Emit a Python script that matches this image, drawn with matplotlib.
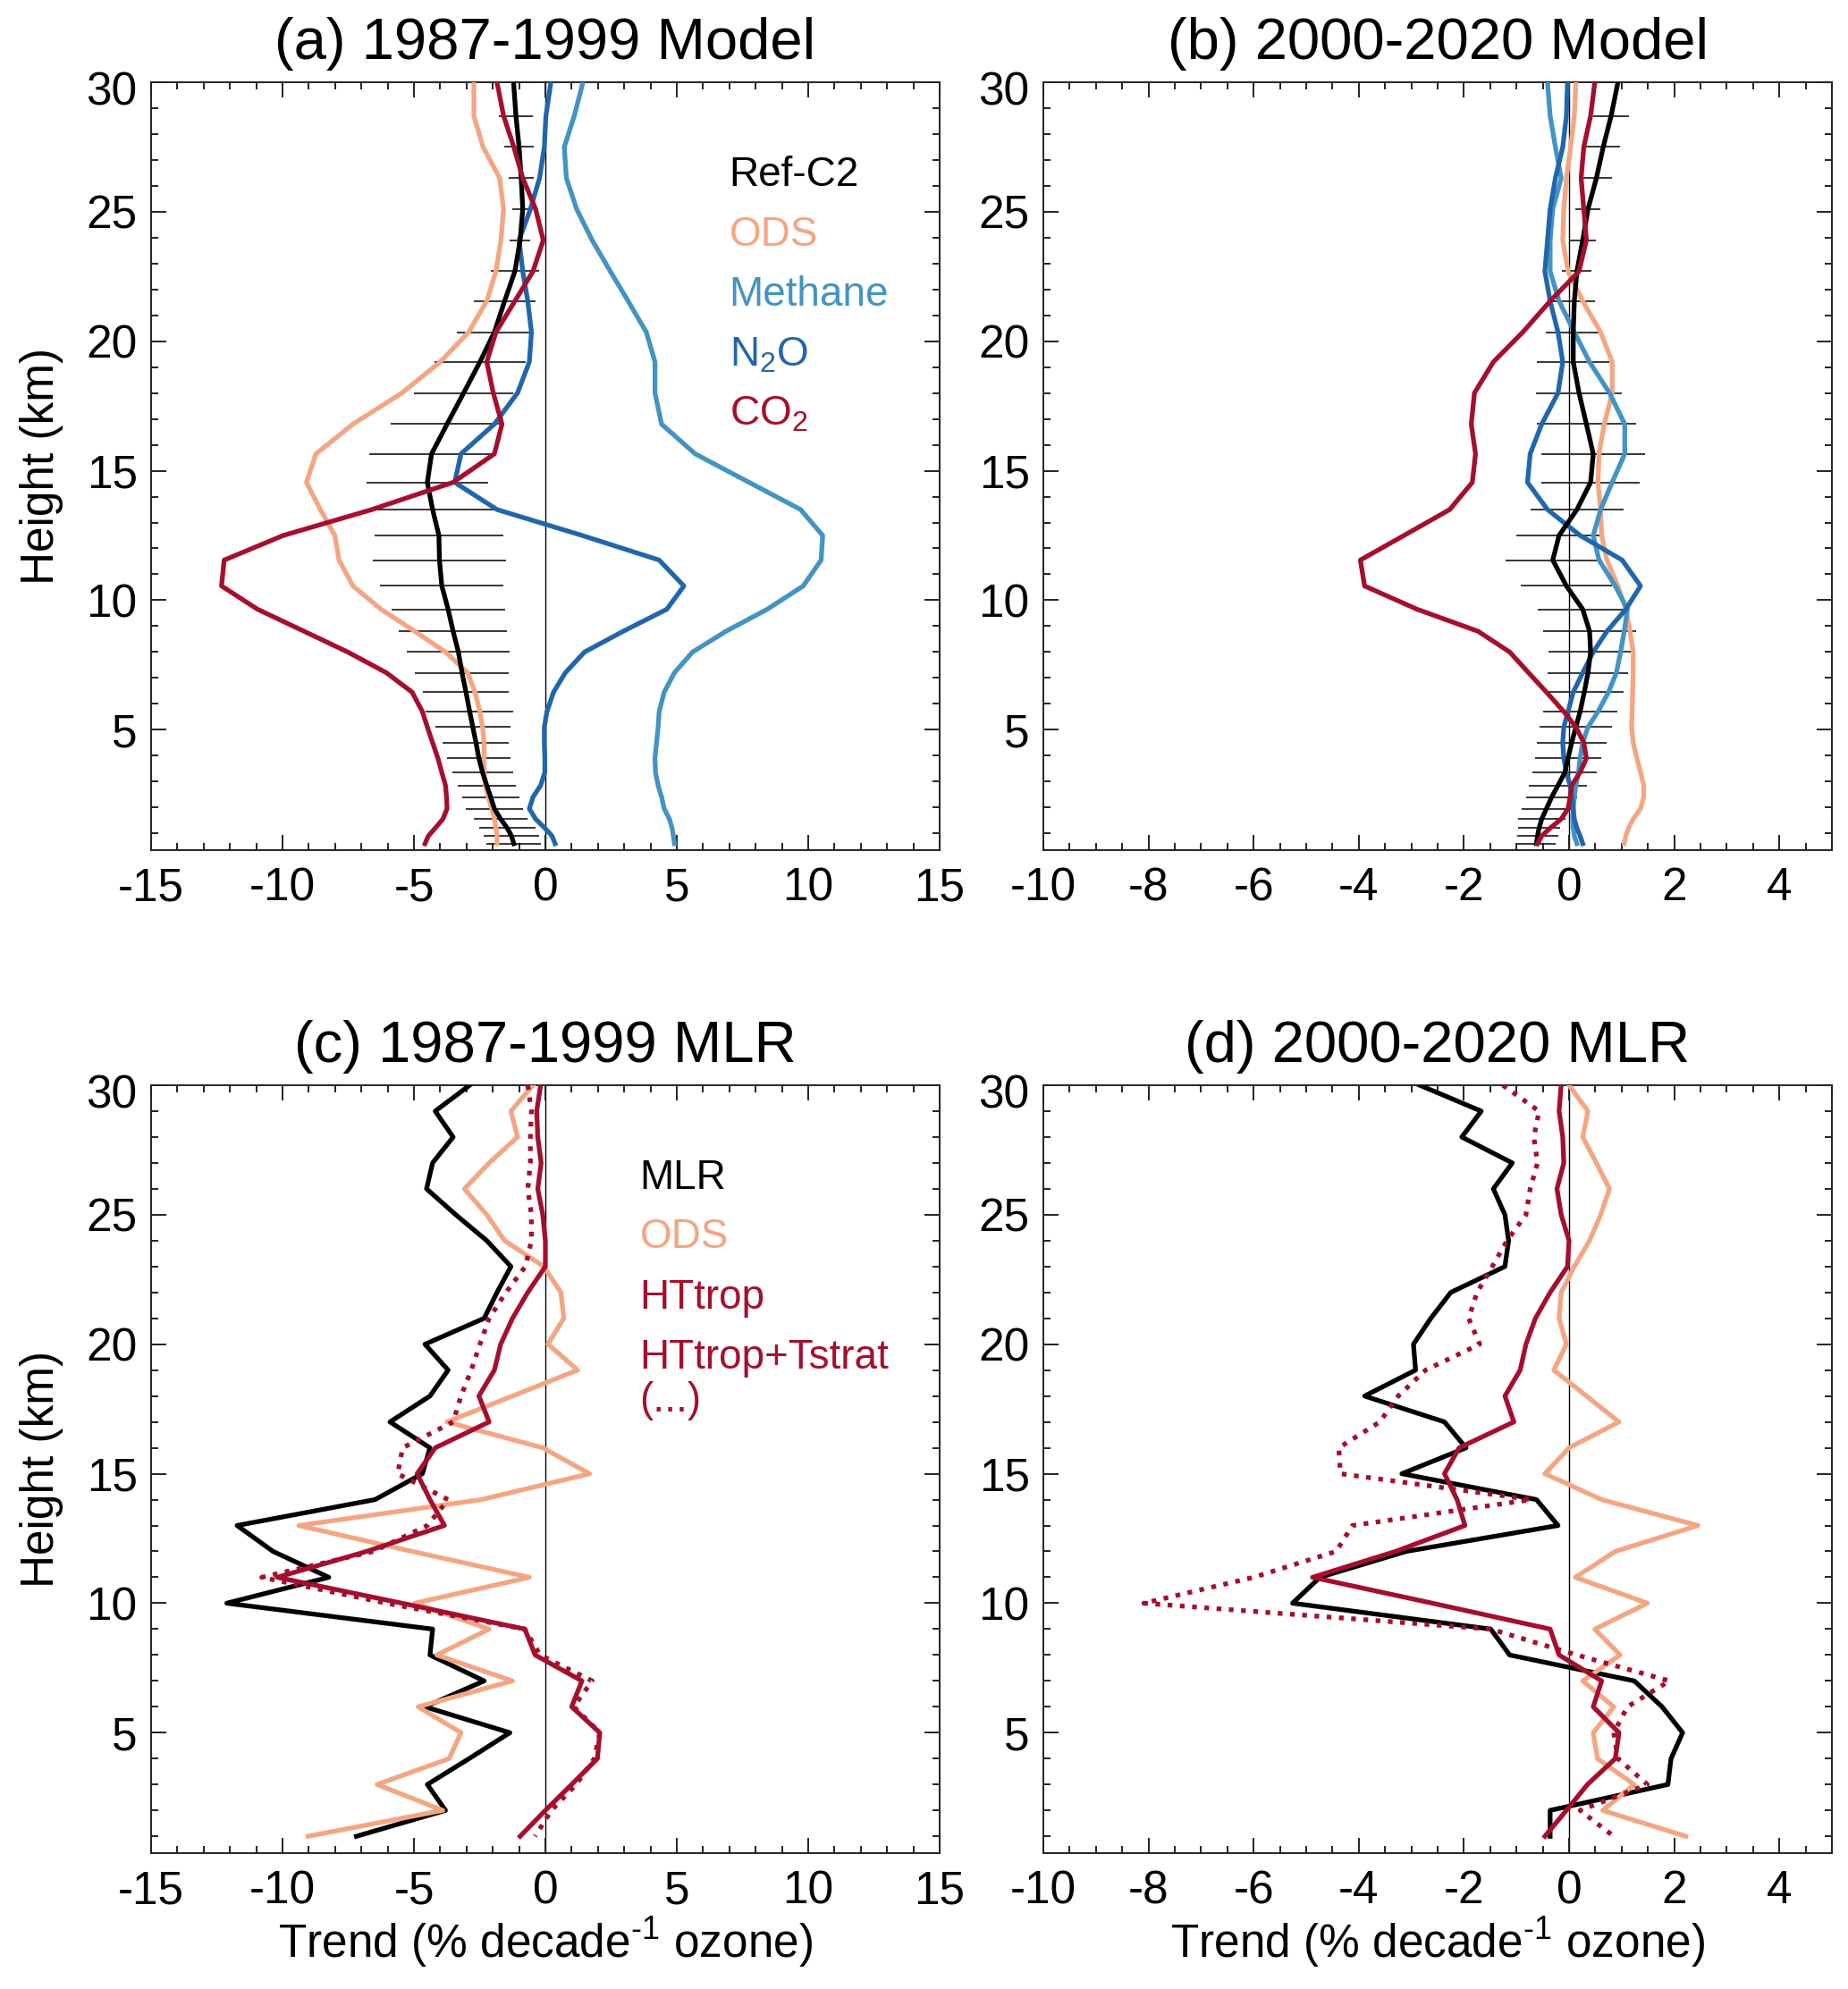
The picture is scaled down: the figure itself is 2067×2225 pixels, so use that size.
import numpy as np
import matplotlib
matplotlib.use('Agg')
import matplotlib.pyplot as plt
from matplotlib.ticker import MultipleLocator
from matplotlib.transforms import offset_copy

plt.rcParams['font.family'] = 'Liberation Sans'
plt.rcParams['mathtext.fontset'] = 'custom'
plt.rcParams['mathtext.rm'] = 'Liberation Sans'
plt.rcParams['mathtext.default'] = 'regular'
plt.rcParams['axes.unicode_minus'] = False

# ---- model levels (km), panels a and b ----
z_model = [30.0, 28.7, 27.5, 26.3, 25.1, 23.9, 22.7, 21.55, 20.35, 19.2, 18.0,
           16.8, 15.65, 14.55, 13.5, 12.5, 11.55, 10.55, 9.65, 8.8, 8.0, 7.2,
           6.45, 5.7, 5.1, 4.5, 3.9, 3.35, 2.85, 2.4, 1.95, 1.55, 1.2, 0.9, 0.6]

# (a) 1987-1999 model
refc2_a = [-1.21, -1.12, -1.0, -0.92, -0.86, -0.96, -1.16, -1.55, -1.94, -2.49, -3.11,
           -3.74, -4.33, -4.49, -4.29, -4.05, -4.03, -3.94, -3.70, -3.51, -3.31, -3.17,
           -3.02, -2.88, -2.76, -2.64, -2.53, -2.39, -2.23, -2.08, -1.94, -1.70, -1.45, -1.29, -1.20]
err_a = [0.70, 0.65, 0.57, 0.48, 0.40, 0.39, 0.93, 1.18, 1.44, 1.74, 1.89,
         2.14, 2.36, 2.30, 2.45, 2.45, 2.53, 2.35, 2.16, 2.06, 1.96, 1.79,
         1.64, 1.67, 1.43, 1.26, 1.20, 1.15, 1.11, 1.10, 1.10, 1.03, 1.08, 1.04, 1.03]
ods_a = [-2.72, -2.72, -2.37, -1.74, -1.59, -1.69, -1.88, -2.23, -2.92, -4.0, -5.46,
         -7.32, -8.73, -9.09, -8.56, -8.01, -7.85, -7.32, -6.25, -4.97, -3.80, -2.96,
         -2.68, -2.49, -2.39, -2.33, -2.33, -2.33, -2.29, -2.17, -2.04, -1.94, -1.88, -1.84, -1.84]
ch4_a = [1.43, 1.10, 0.72, 0.80, 1.19, 1.78, 2.47, 3.15, 3.84, 4.17, 4.17,
         4.42, 5.70, 7.75, 9.71, 10.55, 10.49, 9.81, 8.44, 6.87, 5.60, 4.91,
         4.52, 4.33, 4.29, 4.23, 4.17, 4.19, 4.29, 4.42, 4.52, 4.72, 4.82, 4.87, 4.91]
n2o_a = [0.21, 0.02, -0.04, -0.22, -0.57, -1.0, -0.86, -0.67, -0.53, -0.61, -1.06,
         -1.94, -3.21, -3.45, -1.84, 1.40, 4.33, 5.27, 4.62, 2.96, 1.49, 0.76,
         0.31, 0.06, -0.04, -0.04, -0.02, -0.02, -0.18, -0.47, -0.61, -0.37, -0.02, 0.25, 0.37]
co2_a = [-1.84, -1.59, -1.20, -0.86, -0.37, -0.08, -0.47, -1.16, -1.88, -2.23, -1.98,
         -1.65, -1.94, -3.51, -6.60, -9.97, -12.22, -12.32, -10.95, -9.18, -7.52, -6.05,
         -5.07, -4.68, -4.49, -4.29, -4.09, -3.94, -3.80, -3.76, -3.74, -3.90, -4.19, -4.45, -4.58]

# (b) 2000-2020 model
refc2_b = [0.93, 0.80, 0.65, 0.52, 0.36, 0.26, 0.15, 0.10, 0.08, 0.08, 0.19,
           0.33, 0.46, 0.41, 0.15, -0.19, -0.31, -0.05, 0.26, 0.39, 0.41, 0.36,
           0.29, 0.21, 0.13, 0.05, -0.02, -0.08, -0.21, -0.33, -0.43, -0.52, -0.57, -0.60, -0.62]
err_b = [0.33, 0.34, 0.32, 0.29, 0.24, 0.25, 0.28, 0.40, 0.53, 0.69, 0.82,
         0.94, 0.98, 0.94, 0.88, 0.82, 0.89, 0.86, 0.85, 0.88, 0.80, 0.77,
         0.75, 0.71, 0.69, 0.66, 0.63, 0.61, 0.55, 0.49, 0.47, 0.45, 0.40, 0.39, 0.37]
ods_b = [0.13, 0.10, 0.03, -0.05, -0.10, -0.12, -0.02, 0.26, 0.60, 0.82, 0.82,
         0.67, 0.57, 0.55, 0.60, 0.62, 0.72, 0.93, 1.08, 1.16, 1.22, 1.22,
         1.21, 1.20, 1.19, 1.22, 1.29, 1.36, 1.42, 1.42, 1.36, 1.22, 1.13, 1.08, 1.05]
ch4_b = [-0.41, -0.36, -0.26, -0.15, -0.31, -0.36, -0.36, -0.19, 0.10, 0.39, 0.77,
         1.06, 1.06, 0.82, 0.60, 0.46, 0.57, 0.88, 1.11, 1.05, 0.98, 0.90,
         0.75, 0.55, 0.36, 0.26, 0.21, 0.18, 0.13, 0.10, 0.08, 0.07, 0.08, 0.10, 0.15]
n2o_b = [-0.03, -0.05, -0.12, -0.26, -0.36, -0.41, -0.46, -0.36, -0.21, -0.12, -0.21,
         -0.52, -0.74, -0.79, -0.41, 0.21, 1.01, 1.36, 1.08, 0.72, 0.46, 0.26,
         0.08, -0.02, -0.10, -0.12, -0.10, -0.05, 0.02, 0.05, 0.08, 0.10, 0.15, 0.21, 0.26]
co2_b = [0.49, 0.41, 0.28, 0.23, 0.28, 0.33, 0.19, -0.36, -0.88, -1.44, -1.80,
         -1.86, -1.78, -1.84, -2.27, -3.14, -3.97, -3.89, -2.89, -1.73, -1.13, -0.77,
         -0.43, -0.10, 0.13, 0.28, 0.33, 0.21, 0.05, 0.02, -0.02, -0.15, -0.36, -0.52, -0.60]

# ---- MLR levels (km), panels c and d ----
z_mlr = [30, 29, 28, 27, 26, 25, 24, 23, 22, 21, 20, 19, 18, 17, 16,
         15, 14, 13, 12, 11, 10, 9, 8, 7, 6, 5, 4, 3, 2, 1]

# (c) 1987-1999 MLR
mlr_c = [-2.88, -4.19, -3.51, -4.29, -4.52, -3.41, -2.23, -1.31, -1.84, -2.33, -4.58, -3.70, -4.39, -5.91, -4.39,
         -4.68, -6.48, -11.73, -10.36, -8.24, -12.12, -4.29, -4.39, -2.33, -4.58, -1.35, -2.90, -4.49, -3.80, -7.19]
ods_c = [-0.47, -1.31, -1.06, -2.14, -3.08, -2.23, -1.55, -0.06, 0.59, 0.70, 0.10, 1.23, -1.25, -3.74, -0.10,
         1.68, -2.43, -9.38, -5.07, -0.61, -4.97, -2.14, -4.13, -1.25, -4.84, -3.21, -3.66, -6.40, -3.90, -9.03]
ht_c = [-0.18, -0.33, -0.29, -0.16, -0.29, -0.10, 0.0, 0.0, -0.67, -1.25, -1.70, -1.94, -2.53, -2.14, -4.19,
        -4.88, -4.39, -3.84, -6.80, -10.20, -5.46, -0.78, -0.39, 1.39, 1.00, 2.07, 1.98, 1.00, 0.0, -0.96]
htts_c = [-0.67, -0.53, -0.57, -0.57, -0.67, -0.53, -0.53, -0.76, -1.50, -2.14, -2.49, -2.82, -3.21, -3.51, -5.43,
          -5.62, -3.70, -4.49, -6.54, -10.79, -6.05, -0.78, -0.20, 1.78, 1.08, 2.07, 1.86, 1.17, 0.23, -0.39]

# (d) 2000-2020 MLR
mlr_d = [-2.84, -1.67, -2.04, -1.08, -1.44, -1.22, -1.15, -1.22, -2.25, -2.63, -2.96, -2.92, -3.89, -2.37, -1.96,
         -3.18, -0.62, -0.21, -3.10, -4.74, -5.26, -1.49, -1.13, 1.24, 1.77, 2.16, 1.94, 1.88, -0.36, -0.36]
ods_d = [0.0, 0.36, 0.26, 0.52, 0.77, 0.60, 0.39, 0.10, -0.15, -0.19, -0.05, -0.29, 0.33, 0.95, 0.0,
         -0.46, 0.62, 2.45, 0.88, 0.12, 1.49, 0.49, 0.97, 0.26, 0.85, 0.46, 0.54, 1.24, 0.64, 2.22]
ht_d = [-0.15, -0.19, -0.12, -0.10, -0.23, -0.15, 0.0, -0.03, -0.36, -0.64, -0.82, -0.93, -1.22, -1.05, -2.09,
        -2.37, -2.13, -1.98, -3.30, -4.88, -2.60, -0.36, -0.19, 0.62, 0.46, 0.95, 0.88, 0.35, -0.05, -0.46]
htts_d = [-1.26, -0.57, -0.67, -0.60, -0.74, -0.82, -1.18, -1.46, -1.75, -1.91, -1.70, -2.73, -3.25, -3.60, -4.38,
          -4.35, -0.72, -4.12, -4.43, -6.00, -8.09, -1.49, 0.15, 1.91, 1.11, 0.85, 0.93, 1.49, 0.21, 0.85]

titles = ['(a) 1987-1999 Model', '(b) 2000-2020 Model', '(c) 1987-1999 MLR', '(d) 2000-2020 MLR']
model_names = ['Ref-C2', 'ODS', 'Methane', 'N$_2$O', 'CO$_2$']
mlr_names = ['MLR', 'ODS', 'HTtrop', 'HTtrop+Tstrat', '(...)']

BLACK = 'black'
ODS_COL = '#f4a582'
CH4_COL = '#4393c3'
N2O_COL = '#2166ac'
CO2_COL = '#a50f2d'

LW = 3.8
TICK_FS = 37
LABEL_FS = 37
TITLE_FS = 47
LEG_FS = 33


def setup(ax, fig, xlim, xmaj, xmin, title, xlabel=None, ylabel=None):
    ax.set_xlim(*xlim)
    ax.set_ylim(0.35, 30)
    ax.xaxis.set_major_locator(MultipleLocator(xmaj))
    ax.xaxis.set_minor_locator(MultipleLocator(xmin))
    ax.set_yticks([5, 10, 15, 20, 25, 30])
    ax.set_yticklabels(['5', '10', '15', '20', '25', ''])
    ax.yaxis.set_minor_locator(MultipleLocator(1))
    ax.tick_params(which='both', direction='in', top=True, right=True,
                   width=1.4, labelsize=TICK_FS, color='#222222')
    ax.tick_params(which='major', length=12)
    ax.tick_params(which='minor', length=5.8)
    ax.tick_params(axis='x', pad=13)
    ax.tick_params(axis='y', pad=11)
    for s in ax.spines.values():
        s.set_linewidth(1.4)
        s.set_color('#222222')
    # top y label sits a little below its tick in the original
    ax.text(0, 30, '30', fontsize=TICK_FS, ha='right', va='center',
            transform=offset_copy(ax.get_yaxis_transform(), fig=fig,
                                  x=-11.5, y=-8.6, units='points'))
    ax.axvline(0, color='black', lw=1.0, zorder=1)
    ax.set_title(title, fontsize=TITLE_FS, pad=18.4)
    if xlabel:
        ax.set_xlabel(xlabel, fontsize=LABEL_FS, labelpad=2)
    if ylabel:
        ax.set_ylabel(ylabel, fontsize=LABEL_FS, labelpad=18)
    ax.xaxis.set_major_formatter(plt.FuncFormatter(lambda v, p: '%d' % round(v)))


def legend_text(ax, x, ys, names, cols):
    for y, name, col in zip(ys, names, cols):
        ax.text(x, y, name, color=col, fontsize=LEG_FS, ha='left', va='baseline',
                transform=ax.transAxes)


fig = plt.figure(figsize=(20.67, 22.25), dpi=100)
W = 882 / 2067
H = 859 / 2225
ax_a = fig.add_axes([169 / 2067, 1 - 951 / 2225, W, H])
ax_b = fig.add_axes([1167 / 2067, 1 - 951 / 2225, W, H])
ax_c = fig.add_axes([169 / 2067, 1 - 2073 / 2225, W, H])
ax_d = fig.add_axes([1167 / 2067, 1 - 2073 / 2225, W, H])

xlab = r'Trend (% decade$^{\text{-1}}$ ozone)'

# model panels
for ax, ref, err, ods, ch4, n2o, co2, lim, maj, mn, title in [
        (ax_a, refc2_a, err_a, ods_a, ch4_a, n2o_a, co2_a, (-15, 15), 5, 1, titles[0]),
        (ax_b, refc2_b, err_b, ods_b, ch4_b, n2o_b, co2_b, (-10, 5), 2, 0.5, titles[1])]:
    setup(ax, fig, lim, maj, mn, title, ylabel='Height (km)' if ax is ax_a else None)
    ref = np.array(ref)
    err = np.array(err)
    ax.hlines(z_model, ref - err, ref + err, color='black', lw=1.1, zorder=2)
    ax.plot(ods, z_model, color=ODS_COL, lw=LW, zorder=3)
    ax.plot(ch4, z_model, color=CH4_COL, lw=LW, zorder=3)
    ax.plot(n2o, z_model, color=N2O_COL, lw=LW, zorder=3)
    ax.plot(ref, z_model, color=BLACK, lw=LW, zorder=4)
    ax.plot(co2, z_model, color=CO2_COL, lw=LW, zorder=5)

legend_text(ax_a, 0.733, [0.865, 0.787, 0.7085, 0.630, 0.553], model_names,
            [BLACK, ODS_COL, CH4_COL, N2O_COL, CO2_COL])

# MLR panels
for ax, mlr, ods, ht, htts, lim, maj, mn, title in [
        (ax_c, mlr_c, ods_c, ht_c, htts_c, (-15, 15), 5, 1, titles[2]),
        (ax_d, mlr_d, ods_d, ht_d, htts_d, (-10, 5), 2, 0.5, titles[3])]:
    setup(ax, fig, lim, maj, mn, title, xlabel=xlab,
          ylabel='Height (km)' if ax is ax_c else None)
    ax.plot(mlr, z_mlr, color=BLACK, lw=LW, zorder=3)
    ax.plot(ods, z_mlr, color=ODS_COL, lw=LW, zorder=3)
    ax.plot(ht, z_mlr, color=CO2_COL, lw=LW, zorder=4)
    ax.plot(htts, z_mlr, color=CO2_COL, lw=LW, ls=(0, (1, 1.6)), zorder=4)

legend_text(ax_c, 0.6195, [0.865, 0.788, 0.709, 0.631, 0.575], mlr_names,
            [BLACK, ODS_COL, CO2_COL, CO2_COL, CO2_COL])

fig.savefig('out.png', dpi=100)
